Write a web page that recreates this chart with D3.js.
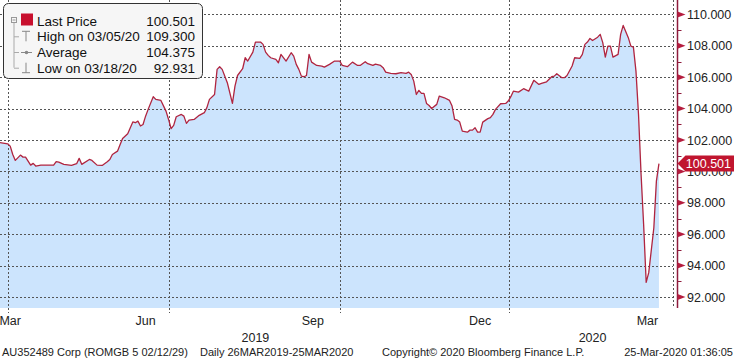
<!DOCTYPE html>
<html><head><meta charset="utf-8">
<script src="https://cdn.jsdelivr.net/npm/d3@7"></script>
<style>
html,body{margin:0;padding:0;background:#fff;}
svg{display:block;}
text{font-family:"Liberation Sans",Arial,sans-serif;}
</style></head>
<body>
<svg id="c" width="736" height="360"></svg>
<script>
// trading-day index (0 = 26 Mar 2019, 258 = 25 Mar 2020)
const days = [0,3,4,5,6,8,9,10,12,13,14,16,21,22,23,25,28,30,31,32,35,36,38,40,42,43,44,46,47,48,50,52,53,54,55,56,57,58,60,61,63,65,66,67,68,69,71,72,73,74,76,78,80,81,82,84,85,86,87,89,91,92,93,95,96,97,99,100,102,103,104,105,106,108,109,110,112,114,115,116,117,118,119,120,121,122,124,126,127,129,131,133,134,136,138,140,141,143,144,146,147,149,150,151,153,155,157,159,160,161,162,163,164,165,166,167,168,169,171,172,174,176,177,178,179,180,181,183,184,185,186,187,188,189,191,192,193,194,196,198,199,200,201,203,205,207,209,211,212,214,216,217,218,220,221,222,224,225,227,228,229,230,231,232,234,235,236,237,238,239,240,242,243,244,246,247,248,249,250,251,252,253,254,256,257,258];
const prices = [101.83,101.76,101.61,101.08,100.70,101.04,100.91,100.91,100.40,100.51,100.34,100.40,100.40,100.62,100.59,100.45,100.38,100.49,100.83,100.45,100.76,100.70,100.40,100.38,100.62,100.76,101.08,101.29,101.70,102.10,102.40,103.15,103.10,103.20,102.89,102.99,103.52,103.95,104.76,104.59,104.52,103.84,103.31,102.72,102.93,103.48,103.63,103.52,103.06,103.27,103.31,103.57,103.74,104.06,104.59,104.90,106.50,106.67,106.50,105.65,104.33,105.43,106.11,106.54,107.24,107.03,107.60,108.24,108.24,108.09,107.60,107.39,107.24,107.13,106.92,107.45,107.03,107.56,107.34,106.82,106.50,106.07,106.03,106.11,107.45,106.96,106.75,106.71,106.64,106.82,107.03,107.03,106.75,106.67,106.96,106.75,106.75,106.99,106.86,106.75,106.83,106.75,106.61,106.32,106.24,106.22,106.29,106.24,106.32,106.18,105.75,104.90,105.16,104.97,104.97,104.33,104.20,104.01,104.27,104.80,104.69,104.52,104.16,103.31,103.27,103.14,102.57,102.50,102.63,102.63,102.78,102.50,102.50,103.14,103.36,103.42,103.63,103.95,104.31,104.33,104.48,104.76,105.11,105.05,105.27,105.11,105.80,105.54,105.61,105.71,106.03,106.07,106.22,105.97,105.97,106.11,106.71,107.24,107.20,107.45,108.09,108.24,108.47,108.34,108.55,108.73,108.20,107.28,107.98,107.98,107.28,107.45,108.73,109.30,108.52,107.98,107.92,106.39,103.63,99.81,96.62,92.931,93.55,96.41,99.38,100.501];

const yTicks = [92,94,96,98,100,102,104,106,108,110];
const yMinor = [93,95,97,99,101,103,105,107,109];
const quarterDays = [3,66.3,133.2,199.4];          // Apr, Jul, Oct 2019, Jan 2020
const monthLabels = ["Mar","Jun","Sep","Dec","Mar"];
const monthLabelDays = [4,57,122.5,188,253.5];
const yearLabels = ["2019","2020"];
const yearLabelDays = [100,232];
const legendLabels = ["Last Price","High on 03/05/20","Average","Low on 03/18/20"];
const legendValues = ["100.501","109.300","104.375","92.931"];
const lastPrice = 100.501;
const footer = ["AU352489 Corp (ROMGB 5 02/12/29)","Daily 26MAR2019-25MAR2020","Copyright\u00A9 2020 Bloomberg Finance L.P.","25-Mar-2020 01:36:05"];

const svg = d3.select("#c");
const plotR = 673, plotB = 308, axisX = 677.5;
const x = d3.scaleLinear().domain([0,263.5]).range([0,plotR]);
const y = d3.scaleLinear().domain([91.3,111]).range([plotB, plotB-19.7*15.7]);
const data = days.map((d,i)=>({d, v:prices[i]}));

// area
svg.append("path").datum(data)
  .attr("fill","#cce4fd")
  .attr("d", d3.area().x(p=>x(p.d)).y0(plotB).y1(p=>y(p.v)));

// gridlines
const g = svg.append("g").attr("stroke","#555").attr("stroke-width",1).attr("stroke-dasharray","2,2");
g.selectAll("line.h").data(yTicks).join("line")
  .attr("x1",0).attr("x2",plotR).attr("y1",v=>Math.round(y(v))+0.5).attr("y2",v=>Math.round(y(v))+0.5);
g.selectAll("line.v").data(quarterDays).join("line")
  .attr("x1",d=>Math.round(x(d))+0.5).attr("x2",d=>Math.round(x(d))+0.5).attr("y1",0).attr("y2",313);
g.append("line").attr("x1",plotR+0.5).attr("x2",plotR+0.5).attr("y1",0).attr("y2",plotB);

// line
svg.append("path").datum(data)
  .attr("fill","none").attr("stroke","#b02540").attr("stroke-width",1.3).attr("stroke-linejoin","round")
  .attr("d", d3.line().x(p=>x(p.d)).y(p=>y(p.v)));

// right axis
const ax = svg.append("g");
ax.append("line").attr("x1",axisX).attr("x2",axisX).attr("y1",0).attr("y2",plotB).attr("stroke","#8e1b3c").attr("stroke-width",1.5);
ax.selectAll("path.tri").data(yTicks).join("path")
  .attr("fill","#b51d3e")
  .attr("d",v=>{const yy=y(v);return `M${axisX},${yy-3}L${axisX+8},${yy}L${axisX},${yy+3}Z`;});
ax.selectAll("line.mn").data(yMinor).join("line")
  .attr("x1",axisX).attr("x2",axisX+4).attr("y1",v=>Math.round(y(v))+0.5).attr("y2",v=>Math.round(y(v))+0.5)
  .attr("stroke","#8e1b3c").attr("stroke-width",1);
ax.selectAll("text").data(yTicks).join("text")
  .attr("x",687).attr("y",v=>y(v)+4.5).attr("font-size","12.5px").attr("fill","#222")
  .text(v=>d3.format(".3f")(v));

// price tag
const ty = y(lastPrice);
svg.append("path").attr("fill","#c0152f")
  .attr("d",`M${axisX},${ty}L${axisX+8},${ty-8}L734,${ty-8}L734,${ty+8}L${axisX+8},${ty+8}Z`);
svg.append("text").attr("x",731).attr("y",ty+4.5).attr("text-anchor","end")
  .attr("font-size","12.5px").attr("fill","#fff").text(d3.format(".3f")(lastPrice));

// x labels
svg.selectAll("text.m").data(monthLabels).join("text")
  .attr("x",(t,i)=>x(monthLabelDays[i])).attr("y",325).attr("text-anchor","middle")
  .attr("font-size","12.5px").attr("fill","#222").text(t=>t);
svg.selectAll("text.yr").data(yearLabels).join("text")
  .attr("x",(t,i)=>x(yearLabelDays[i])).attr("y",342).attr("text-anchor","middle")
  .attr("font-size","12.5px").attr("fill","#222").text(t=>t);

// footer
const fx = [2,200,382,733];
svg.selectAll("text.f").data(footer).join("text")
  .attr("x",(t,i)=>fx[i]).attr("y",356).attr("text-anchor",(t,i)=>i===3?"end":"start")
  .attr("font-size","11px").attr("fill","#222").text(t=>t);

// legend
const lg = svg.append("g");
lg.append("rect").attr("x",3.5).attr("y",3.5).attr("width",199).attr("height",75).attr("rx",5)
  .attr("fill","#f6f6f6").attr("stroke","#333");
const rowY = [20.7,36.3,52,67.7];
// tree
lg.append("rect").attr("x",11.5).attr("y",17.5).attr("width",5).attr("height",5).attr("fill","none").attr("stroke","#999");
lg.append("line").attr("x1",12.5).attr("x2",15.5).attr("y1",20).attr("y2",20).attr("stroke","#999");
lg.append("line").attr("x1",14).attr("x2",14).attr("y1",23).attr("y2",rowY[3]).attr("stroke","#aaa");
lg.selectAll("line.br").data(rowY.slice(1)).join("line")
  .attr("x1",14).attr("x2",19).attr("y1",d=>d+0.5).attr("y2",d=>d+0.5).attr("stroke","#aaa");
lg.append("rect").attr("x",21).attr("y",13.5).attr("width",12).attr("height",12).attr("fill","#c8102e");
// high marker
lg.append("path").attr("stroke","#888").attr("fill","none").attr("d",`M22,${rowY[1]-5}H30M26,${rowY[1]-5}V${rowY[1]+5}`);
// avg marker
lg.append("path").attr("stroke","#888").attr("fill","none").attr("d",`M21,${rowY[2]+0.5}H32`);
lg.append("circle").attr("cx",26.5).attr("cy",rowY[2]+0.5).attr("r",1.8).attr("fill","#888");
// low marker
lg.append("path").attr("stroke","#888").attr("fill","none").attr("d",`M22,${rowY[3]+5}H30M26,${rowY[3]+5}V${rowY[3]-5}`);
lg.selectAll("text.l").data(legendLabels).join("text")
  .attr("x",37).attr("y",(t,i)=>rowY[i]+5).attr("font-size","13.5px").attr("fill","#111").text(t=>t);
lg.selectAll("text.lv").data(legendValues).join("text")
  .attr("x",195).attr("y",(t,i)=>rowY[i]+5).attr("text-anchor","end").attr("font-size","13.5px").attr("fill","#111").text(t=>t);
</script>
</body></html>
